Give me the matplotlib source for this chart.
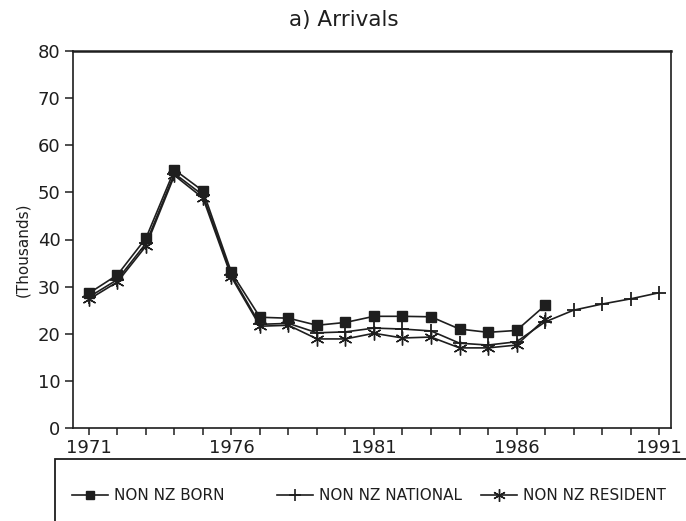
import matplotlib
matplotlib.use("Agg")
import matplotlib.pyplot as plt
from matplotlib.patches import Rectangle
from matplotlib.lines import Line2D

years_short = list(range(1971, 1988))
years_long = list(range(1971, 1992))

non_nz_born = [28.6, 32.5, 40.3, 54.8, 50.3, 33.0, 23.5, 23.3, 21.8, 22.4,
               23.7, 23.7, 23.6, 21.0, 20.3, 20.7, 26.0]
non_nz_national = [27.8, 31.5, 39.2, 54.0, 49.4, 32.4, 22.0, 22.2, 20.2, 20.4,
                   21.2, 21.0, 20.6, 18.0, 17.6, 18.3, 22.5, 25.0, 26.3, 27.4, 28.7]
non_nz_resident = [27.3, 31.0, 38.6, 53.6, 48.8, 32.0, 21.6, 21.8, 18.9, 18.9,
                   20.1, 19.1, 19.3, 17.0, 17.0, 17.6, 23.1]

labels = ["NON NZ BORN", "NON NZ NATIONAL", "NON NZ RESIDENT"]
title = "a) Arrivals"
ylabel = "(Thousands)"
xtick_labels = ["1971", "1976", "1981", "1986", "1991"]

ink = "#1e1e1e"
fig = plt.figure(figsize=(6.86, 5.21), dpi=100)
W, H = 686, 521
ax = fig.add_axes([73 / W, 1 - 428 / H, (671 - 73) / W, (428 - 51) / H])

ax.plot(years_short, non_nz_born, color=ink, lw=1.2, marker="s", ms=7.5,
        mfc=ink, mec=ink, label=labels[0], zorder=3)
ax.plot(years_long, non_nz_national, color=ink, lw=1.2, marker="+", ms=10,
        mew=1.3, label=labels[1], zorder=2)
ax.plot(years_short, non_nz_resident, color=ink, lw=1.2, marker=(6, 2, 0), ms=10,
        mew=1.0, label=labels[2], zorder=2)

ax.set_xlim(1970.44, 1991.42)
ax.set_ylim(0, 80)
ax.set_yticks(range(0, 81, 10))
ax.set_xticks(years_long)
ax.set_xticklabels([str(y) if str(y) in xtick_labels else "" for y in years_long])
ax.tick_params(axis="both", direction="out", length=5, width=1.1, colors=ink,
               labelsize=13, pad=3)
ax.tick_params(axis="y", length=6)
for s in ax.spines.values():
    s.set_color(ink)
    s.set_linewidth(1.2)
ax.spines["top"].set_linewidth(1.8)

fig.text(23 / W, 1 - 250 / H, ylabel, rotation=90, ha="center", va="center",
         fontsize=11, color=ink)
fig.text(344 / W, 1 - 20 / H, title, ha="center", va="center", fontsize=15.5,
         color=ink)

# legend box (extends past figure edge as in the reference)
fig.patches.append(Rectangle((55 / W, -0.05), 0.98, (1 - 459 / H) + 0.05,
                             transform=fig.transFigure, fill=False,
                             edgecolor=ink, lw=1.3))
handles = [Line2D([], [], color=ink, lw=1.2, marker="s", ms=6, mfc=ink, mec=ink),
           Line2D([], [], color=ink, lw=1.2, marker="+", ms=9, mew=1.2),
           Line2D([], [], color=ink, lw=1.2, marker=(6, 2, 0), ms=9, mew=1.0)]
anchors_px = [58, 263, 467]
for h, lab, xp in zip(handles, labels, anchors_px):
    leg = fig.legend([h], [lab], loc="center left",
                     bbox_to_anchor=(xp / W, 1 - 496 / H), frameon=False,
                     fontsize=11, handlelength=2.4, handletextpad=0.35)
    for t in leg.get_texts():
        t.set_color(ink)

fig.savefig("out.png", dpi=100, facecolor="white")
